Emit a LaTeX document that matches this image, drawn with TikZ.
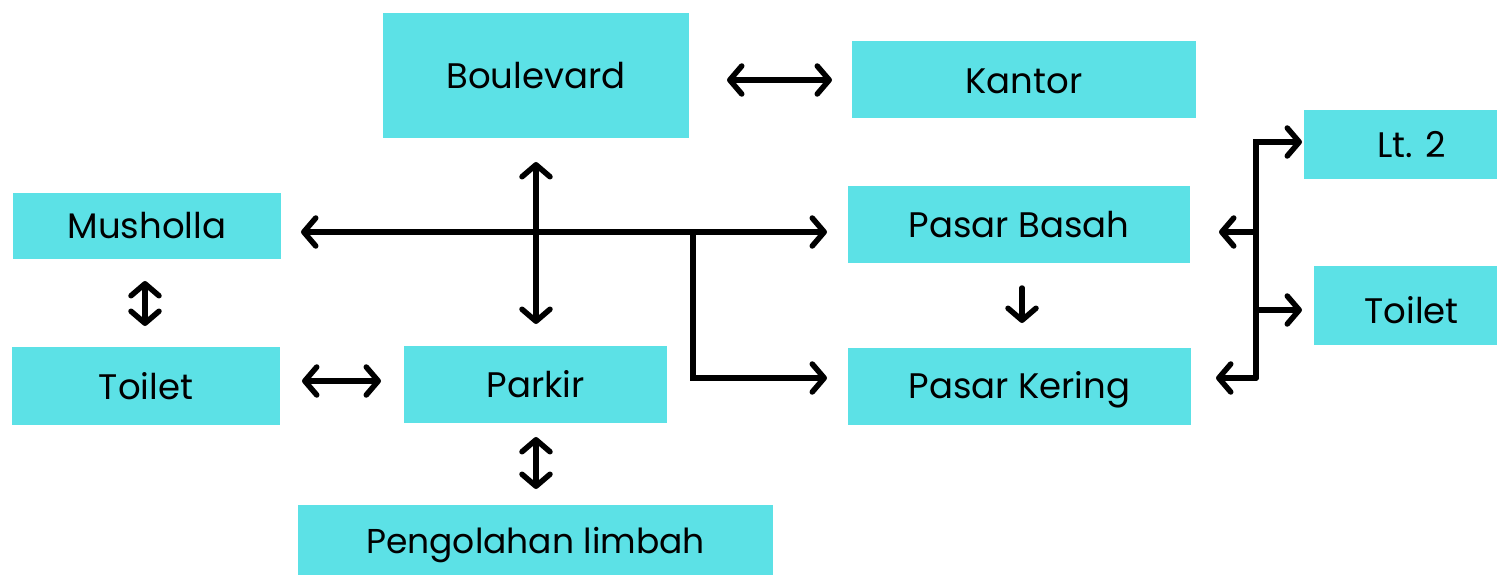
\documentclass[tikz,border=0pt]{standalone}
\usepackage{fontspec}
\setmainfont{Poppins}
\usetikzlibrary{arrows.meta}
\definecolor{boxcyan}{HTML}{5CE1E6}
% lower a label inside its box without changing the box's size
\newcommand{\dropby}[2]{\raisebox{-#1pt}[\height][\depth]{#2}}
\begin{document}
\begin{tikzpicture}[x=1pt,y=-1pt,
  place/.style={fill=boxcyan, inner sep=0pt, font=\fontsize{35.5}{40}\selectfont},
  link/.style={line width=5.5pt, line cap=round, line join=miter},
  barb/.tip={Straight Barb[length=12pt,width=28pt,round]}
]
\useasboundingbox (0,0) rectangle (1497,575);

% rooms
\node[place, minimum width=306pt, minimum height=125pt] (boul) at (536,75.5) {Boulevard};
\node[place, minimum width=344pt, minimum height=77pt] (kantor) at (1024,79.5) {\dropby{2}{Kantor}};
\node[place, minimum width=193pt, minimum height=69pt] (lt2) at (1400.5,144.5) {\hspace*{22pt}Lt. 2};
\node[place, minimum width=268pt, minimum height=66pt] (mush) at (147,226) {Musholla};
\node[place, minimum width=342pt, minimum height=77pt] (basah) at (1019,224.5) {Pasar Basah};
\node[place, minimum width=183pt, minimum height=79pt] (toiletR) at (1405.5,305.5) {\hspace*{12pt}\dropby{5}{Toilet}};
\node[place, minimum width=268pt, minimum height=78pt] (toiletL) at (146,386) {Toilet};
\node[place, minimum width=263pt, minimum height=77pt] (parkir) at (535.5,384.5) {Parkir};
\node[place, minimum width=343pt, minimum height=77pt] (kering) at (1019.5,386.5) {\dropby{3}{Pasar Kering}};
\node[place, minimum width=475pt, minimum height=71pt, font=\fontsize{34.5}{40}\selectfont] (limbah) at (535.5,540) {\dropby{5}{Pengolahan limbah}};

% connector ends
\coordinate (bkA) at (727,80);   \coordinate (bkB) at (832,80);
\coordinate (vA) at (536,162);   \coordinate (vB) at (536,324);
\coordinate (hA) at (301,232);   \coordinate (hB) at (827,232);
\coordinate (hJ) at (693,232);   \coordinate (hK) at (693,378);
\coordinate (kB) at (827,378);
\coordinate (mtA) at (145,281);  \coordinate (mtB) at (145,326);
\coordinate (tpA) at (302,381);  \coordinate (tpB) at (381,381);
\coordinate (plA) at (536,437);  \coordinate (plB) at (536,489);
\coordinate (bkrA) at (1022,288); \coordinate (bkrB) at (1022,323);
\coordinate (rT) at (1256,142);  \coordinate (rB) at (1256,378);
\coordinate (rM) at (1256,232);  \coordinate (rN) at (1256,310);
\coordinate (lt2A) at (1302,142);
\coordinate (basA) at (1219,232);
\coordinate (toiA) at (1302,310);
\coordinate (kerA) at (1216,378);

% links between rooms
\draw[link, barb-barb] (bkA) -- (bkB);
\draw[link, barb-barb] (vA) -- (vB);
\draw[link, barb-barb] (hA) -- (hB);
\draw[link, -barb] (hJ) -- (hK) -- (kB);
\draw[link, barb-barb] (mtA) -- (mtB);
\draw[link, barb-barb] (tpA) -- (tpB);
\draw[link, barb-barb] (plA) -- (plB);
\draw[link, -barb] (bkrA) -- (bkrB);

% stair tree on the right
\draw[link, -barb] (rB) -- (rT) -- (lt2A);
\draw[link, -barb] (rM) -- (basA);
\draw[link, -barb] (rN) -- (toiA);
\draw[link, -barb] (rB) -- (kerA);
\end{tikzpicture}
\end{document}
